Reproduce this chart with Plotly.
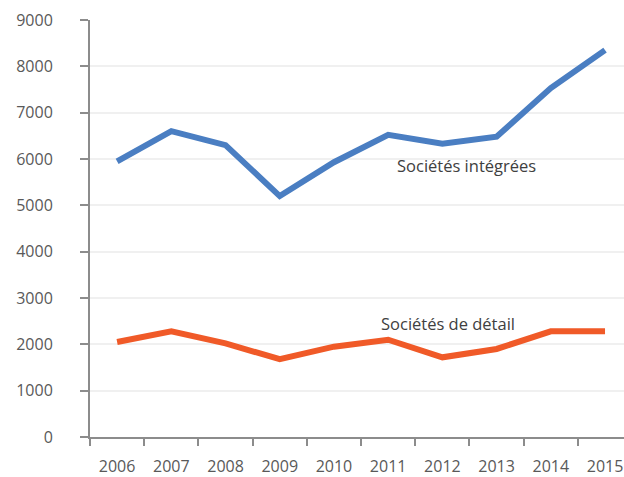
import plotly.graph_objects as go

years = ["2006", "2007", "2008", "2009", "2010", "2011", "2012", "2013", "2014", "2015"]
integrees = [5950, 6600, 6300, 5200, 5930, 6520, 6330, 6480, 7530, 8350]
detail = [2050, 2280, 2020, 1680, 1950, 2100, 1720, 1900, 2280, 2280]
y_ticks = [0, 1000, 2000, 3000, 4000, 5000, 6000, 7000, 8000, 9000]

BLUE = "#4a7ec2"
ORANGE = "#f05a28"
TXT = "#595959"
AX = "#8c8c8c"
FONT = "Open Sans"

fig = go.Figure()
fig.add_trace(go.Scatter(x=years, y=integrees, mode="lines",
                         line=dict(color=BLUE, width=6), name="Sociétés intégrées"))
fig.add_trace(go.Scatter(x=years, y=detail, mode="lines",
                         line=dict(color=ORANGE, width=6), name="Sociétés de détail"))

fig.add_annotation(x=6.45, y=5870, text="Sociétés intégrées", showarrow=False,
                   font=dict(family=FONT, size=16.5, color="#404040"))
fig.add_annotation(x=6.1, y=2460, text="Sociétés de détail", showarrow=False,
                   font=dict(family=FONT, size=16.5, color="#404040"))

fig.update_layout(
    width=624, height=477,
    margin=dict(l=90, r=0, t=20, b=40, autoexpand=False),
    paper_bgcolor="white", plot_bgcolor="white",
    showlegend=False,
    font=dict(family=FONT, size=16, color=TXT),
)
fig.update_xaxes(
    type="category", range=[-0.5, 9.35],
    tickson="boundaries", ticks="outside", ticklen=7, tickcolor=AX, tickwidth=2,
    showline=True, linecolor=AX, linewidth=2,
    showgrid=False, zeroline=False,
    ticklabelstandoff=14,
    tickfont=dict(family=FONT, size=16, color=TXT),
    automargin=False,
)
fig.update_yaxes(
    range=[0, 9000], tickvals=y_ticks,
    ticks="outside", ticklen=8, tickcolor=AX, tickwidth=2,
    showline=True, linecolor=AX, linewidth=2,
    showgrid=True, gridcolor="#f0f0f0", gridwidth=1.5,
    zeroline=False,
    ticklabelstandoff=24,
    tickfont=dict(family=FONT, size=16, color=TXT),
    automargin=False,
)

fig.write_html("out.html")
